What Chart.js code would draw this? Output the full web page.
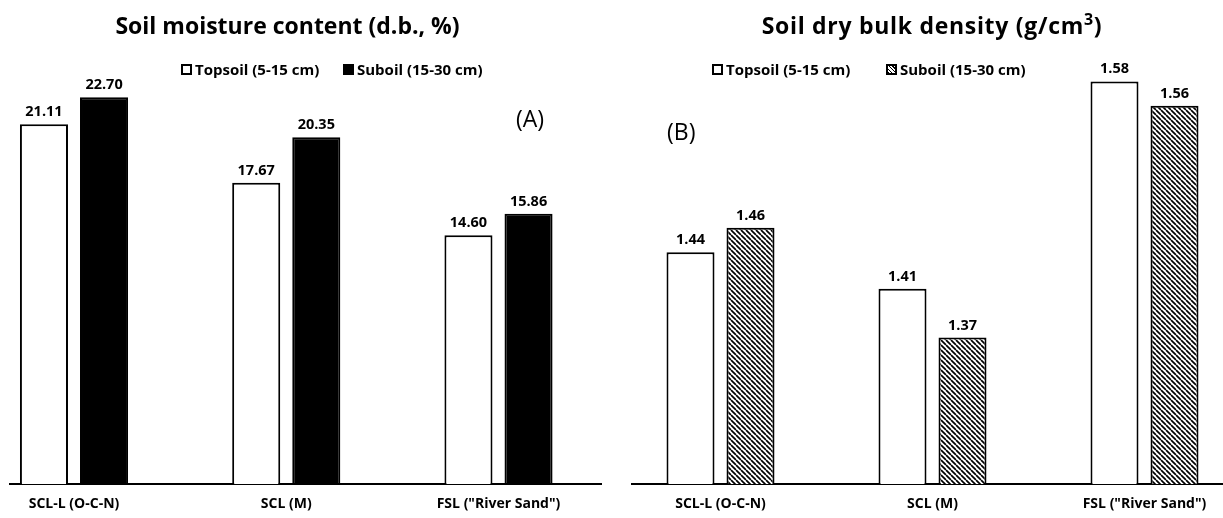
<!DOCTYPE html>
<html>
<head>
<meta charset="utf-8">
<script src="https://cdn.jsdelivr.net/npm/chart.js@4.4.0/dist/chart.umd.min.js"></script>
<style>
  html, body { margin: 0; padding: 0; background: #fff; }
  #wrap { position: relative; width: 1223px; height: 518px; overflow: hidden; background: #fff; font-family: "Open Sans", sans-serif; color: #000; }
  canvas { position: absolute; top: 0; }
  .title { position: absolute; font-weight: bold; font-size: 23px; line-height: 30px; text-align: center; white-space: nowrap; }
  .title sup { font-size: 16px; line-height: 0; vertical-align: 9px; }
  .leg { position: absolute; font-weight: bold; font-size: 15px; line-height: 20px; white-space: nowrap; display: flex; align-items: center; }
  .box { display: inline-block; width: 7px; height: 7px; border: 2px solid #000; margin-right: 3px; box-sizing: content-box; }
  .panel { position: absolute; font-size: 23px; line-height: 30px; white-space: nowrap; }
</style>
</head>
<body>
<div id="wrap">
  <canvas id="c1" width="616" height="518" style="left:0px"></canvas>
  <canvas id="c2" width="607" height="518" style="left:616px"></canvas>

  <div class="title" style="left:0px; width:575px; top:10px;">Soil moisture content (d.b., %)</div>
  <div class="title" style="left:632px; width:600px; top:10px; letter-spacing:0.7px;">Soil dry bulk density (g/cm<sup>3</sup>)</div>

  <div class="leg" style="left:181px; top:59px;"><span class="box" style="background:#fff"></span>Topsoil (5-15 cm)</div>
  <div class="leg" style="left:343px; top:59px;"><span class="box" style="background:#000"></span>Suboil (15-30 cm)</div>
  <div class="leg" style="left:712px; top:59px;"><span class="box" style="background:#fff"></span>Topsoil (5-15 cm)</div>
  <div class="leg" style="left:886px; top:59px;"><span class="box" style="background:repeating-linear-gradient(45deg,#000 0 1px,#fff 1px 2.5px)"></span>Suboil (15-30 cm)</div>

  <div class="panel" style="left:516px; top:103px;">(A)</div>
  <div class="panel" style="left:667px; top:116px;">(B)</div>
</div>
<script>
// ---- data ----
const categories = ['SCL-L (O-C-N)', 'SCL (M)', 'FSL ("River Sand")'];
const seriesNames = ['Topsoil (5-15 cm)', 'Suboil (15-30 cm)'];
const moistureTopsoil = [21.11, 17.67, 14.60];
const moistureSuboil = [22.70, 20.35, 15.86];
const densityTopsoil = [1.44, 1.41, 1.58];
const densitySuboil = [1.46, 1.37, 1.56];

// hatch pattern for subsoil density bars
function makeHatch() {
  const p = 5;
  const c = document.createElement('canvas');
  c.width = p; c.height = p;
  const g = c.getContext('2d');
  g.fillStyle = '#fff';
  g.fillRect(0, 0, p, p);
  g.strokeStyle = '#000';
  g.lineWidth = 1.7;
  g.beginPath();
  for (let k = -1; k <= 1; k++) {
    g.moveTo(k * p, 0);
    g.lineTo(k * p + p, p);
  }
  g.stroke();
  return g.createPattern(c, 'repeat');
}

const valueLabels = {
  id: 'valueLabels',
  afterDatasetsDraw(chart) {
    const ctx = chart.ctx;
    ctx.save();
    ctx.font = 'bold 14.5px "Open Sans"';
    ctx.fillStyle = '#000';
    ctx.textAlign = 'center';
    ctx.textBaseline = 'alphabetic';
    chart.data.datasets.forEach((ds, i) => {
      const meta = chart.getDatasetMeta(i);
      meta.data.forEach((bar, j) => {
        ctx.fillText(ds.data[j].y.toFixed(2), bar.x, bar.y - 8);
      });
    });
    ctx.restore();
  }
};

function toPoints(arr) { return arr.map((v, i) => ({ x: i, y: v })); }

function makeChart(id, top, sub, subFill, xmin, xmax, ymin, ymax, padL, padR) {
  return new Chart(document.getElementById(id), {
    type: 'bar',
    data: {
      datasets: [
        { label: seriesNames[0], data: toPoints(top), backgroundColor: '#fff', borderColor: '#000', borderWidth: 2 },
        { label: seriesNames[1], data: toPoints(sub), backgroundColor: subFill, borderColor: '#000', borderWidth: 2 }
      ]
    },
    options: {
      responsive: false,
      animation: false,
      events: [],
      categoryPercentage: 120 / 212,
      barPercentage: 0.8,
      layout: { padding: { left: padL, right: padR, top: 75, bottom: 0 } },
      plugins: { legend: { display: false }, title: { display: false }, tooltip: { enabled: false } },
      scales: {
        x: {
          type: 'linear',
          min: xmin, max: xmax,
          offset: false,
          grid: { display: false, drawTicks: false },
          border: { display: true, color: '#000', width: 2 },
          afterBuildTicks: (s) => { s.ticks = categories.map((c, i) => ({ value: i })); },
          afterFit: (s) => { s.height = 34; },
          ticks: {
            autoSkip: false,
            maxRotation: 0,
            padding: 12,
            color: '#000',
            font: { family: 'Open Sans', weight: 'bold', size: 14 },
            callback: (v) => categories[v]
          }
        },
        y: { display: false, min: ymin, max: ymax }
      }
    },
    plugins: [valueLabels]
  });
}

makeChart('c1', moistureTopsoil, moistureSuboil, '#000', (10 - 74) / 212.25, (601 - 74) / 212.25, 0, 24, 10, 15);
makeChart('c2', densityTopsoil, densitySuboil, makeHatch(), (632 - 720.5) / 212, (1223 - 720.5) / 212, 1.25, 1.25 + 409 / 1220, 16, 0);
</script>
</body>
</html>
